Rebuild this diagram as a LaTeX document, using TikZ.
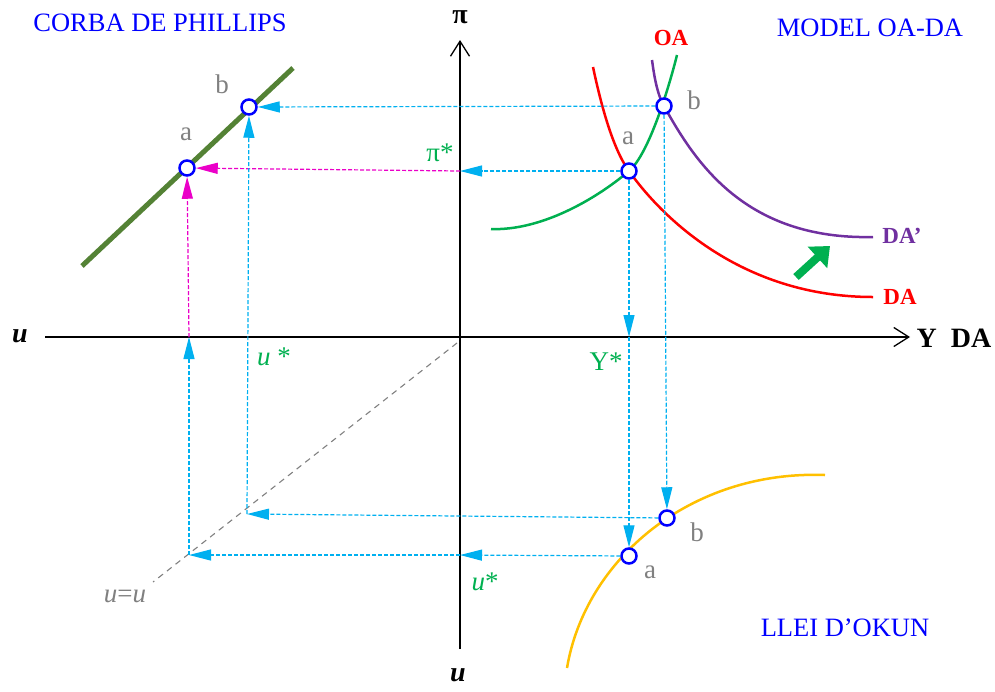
\documentclass[tikz,border=0pt]{standalone}
\usepackage{fontspec}
\setmainfont{Liberation Serif}
\usetikzlibrary{arrows.meta}
\definecolor{cyanA}{HTML}{00B0F0}
\definecolor{magA}{RGB}{235,0,200}
\definecolor{greenA}{HTML}{00B050}
\definecolor{purpA}{HTML}{7030A0}
\definecolor{orA}{HTML}{FFC000}
\definecolor{oliveA}{HTML}{548235}
\definecolor{grayA}{HTML}{808080}

\begin{document}
\begin{tikzpicture}[x=1pt,y=-1pt,
  cyl/.style={cyanA,line width=1.2pt,dash pattern=on 4pt off 2pt},
  mgl/.style={magA,line width=1.2pt,dash pattern=on 4pt off 2pt},
  arr/.style={-{Triangle[length=22pt,width=11pt]}},
  ax/.style={line width=1.3pt,-{Straight Barb[length=15pt,width=19pt]}},
  crv/.style={line width=2.5pt},
  pnt/.style={circle,draw=blue,fill=white,line width=2.5pt,minimum size=15pt,inner sep=0pt},
  ttl/.style={text=blue,font=\fontsize{26.5}{30}\selectfont},
  ab/.style={text=grayA,font=\fontsize{27}{30}\selectfont},
  gl/.style={text=greenA,font=\fontsize{27}{30}\selectfont},
  bl/.style={font=\fontsize{28}{30}\selectfont\bfseries},
  cl/.style={font=\fontsize{23}{26}\selectfont\bfseries}]
\useasboundingbox (0,0) rectangle (995,691);
% axes
\coordinate (xw) at (45,337); \coordinate (xe) at (910,337);
\coordinate (ys) at (460,649); \coordinate (yn) at (460,40);
\draw[ax] (xw) -- (xe);
\draw[ax] (ys) -- (yn);
\node[bl] (pilab) at (460,17) {π};
\node[bl] (ulab) at (20,336) {\itshape u};
\node[bl] (ylab) at (954,338) {Y\enspace DA};
\node[bl] (udown) at (458,675) {\itshape u};
% titles
\node[ttl] (tph) at (160,23) {CORBA DE PHILLIPS};
\node[ttl] (toa) at (870,28) {MODEL OA-DA};
\node[ttl] (tok) at (845,628) {LLEI D’OKUN};
% 45 degree line
\coordinate (dg1) at (457,343); \coordinate (dg2) at (153,582);
\draw[grayA,line width=1.1pt,dash pattern=on 6pt off 5pt] (dg1) -- (dg2);
\node[text=grayA,font=\fontsize{27}{30}\selectfont] (uu) at (125,596) {\itshape u\/\upshape=\itshape u};
% curves
\draw[oliveA,line width=5pt] (82,266) -- (293,68);
\draw[greenA,crv] (491,229) .. controls (540,231) and (595,200) .. (629,171) .. controls (649,154) and (669,87) .. (677,55);
\draw[red,crv] (593,67) .. controls (600,100) and (612,148) .. (629,171) .. controls (660,215) and (740,297) .. (873,297);
\draw[purpA,crv] (652,60) .. controls (654,75) and (657,94) .. (664,106) .. controls (695,162) and (745,240) .. (873,237);
\draw[orA,crv] (567,668) .. controls (585,560) and (690,470) .. (825,475);
\node[cl,text=red] (oalab) at (671,38) {OA};
\node[cl,text=purpA] (da2lab) at (902,236) {DA’};
\node[cl,text=red] (dalab) at (900,297) {DA};
\coordinate (ga1) at (796,277); \coordinate (ga2) at (830,246);
\draw[greenA,line width=8pt,-{Triangle[length=17pt,width=28pt]}] (ga1) -- (ga2);
% equilibrium points
\node[pnt] (pa) at (187,168) {};
\node[pnt] (pb) at (249,107) {};
\node[pnt] (ea) at (629,171) {};
\node[pnt] (eb) at (664,106) {};
\node[pnt] (ka) at (629,556) {};
\node[pnt] (kb) at (667,518) {};
\foreach \p/\q/\t in {pa/{(186,134)}/a,pb/{(222,84)}/b,ea/{(628,138)}/a,eb/{(694,100)}/b,ka/{(650,572)}/a,kb/{(697,532)}/b} {\node[ab] (l\p) at \q {\t};}
% projections
\coordinate (piax) at (460,171); \coordinate (yax) at (629,337);
\coordinate (uax) at (460,555); \coordinate (phx) at (189,337);
\coordinate (da) at (189,555); \coordinate (db) at (247,514);
\draw[cyl,arr] (eb) -- (pb);
\draw[cyl,arr] (ea) -- (piax);
\draw[mgl,arr] (piax) -- (pa);
\draw[cyl,arr] (ea) -- (yax);
\draw[cyl,arr] (yax) -- (ka);
\draw[cyl,arr] (eb) -- (kb);
\draw[cyl,arr] (kb) -- (db);
\draw[cyl,arr] (ka) -- (uax);
\draw[cyl,arr] (uax) -- (da);
\draw[cyl,arr] (da) -- (phx);
\draw[mgl,arr] (phx) -- (pa);
\draw[cyl,arr] (db) -- (pb);
% starred values
\node[gl] (pistar) at (440,153) {π*};
\node[gl] (ustar) at (274,357) {\itshape u\upshape\ *};
\node[gl] (ystar) at (606,362) {Y*};
\node[gl] (ustar2) at (485,582) {\itshape u\upshape*};
\end{tikzpicture}
\end{document}
